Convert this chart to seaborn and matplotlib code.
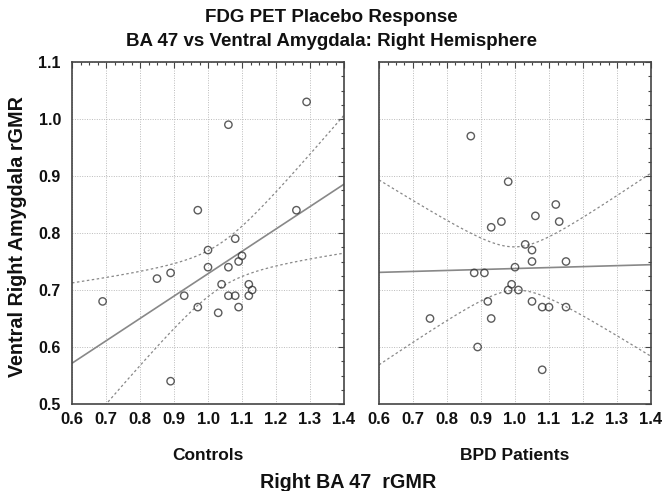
import numpy as np
import pandas as pd
import matplotlib
matplotlib.use("Agg")
import matplotlib.pyplot as plt
import seaborn as sns
from matplotlib.ticker import MultipleLocator

# ---- data ----
controls_x = [1.29, 1.06, 0.97, 1.26, 1.08, 1.00, 1.10, 1.09, 1.06, 1.00, 0.89, 0.85,
              1.04, 1.12, 1.13, 0.93, 1.06, 1.08, 1.12, 0.69, 0.97, 1.09, 1.03, 0.89]
controls_y = [1.03, 0.99, 0.84, 0.84, 0.79, 0.77, 0.76, 0.75, 0.74, 0.74, 0.73, 0.72,
              0.71, 0.71, 0.70, 0.69, 0.69, 0.69, 0.69, 0.68, 0.67, 0.67, 0.66, 0.54]

bpd_x = [0.87, 0.98, 1.12, 1.06, 0.96, 1.13, 0.93, 1.03, 1.05, 1.05, 1.15, 1.00, 0.88,
         0.91, 0.99, 0.98, 1.01, 0.92, 1.05, 1.08, 1.10, 1.15, 0.75, 0.93, 0.89, 1.08]
bpd_y = [0.97, 0.89, 0.85, 0.83, 0.82, 0.82, 0.81, 0.78, 0.77, 0.75, 0.75, 0.74, 0.73,
         0.73, 0.71, 0.70, 0.70, 0.68, 0.68, 0.67, 0.67, 0.67, 0.65, 0.65, 0.60, 0.56]

panel_labels = ["Controls", "BPD Patients"]
x_ticks = [0.6, 0.7, 0.8, 0.9, 1.0, 1.1, 1.2, 1.3, 1.4]
y_ticks = [0.5, 0.6, 0.7, 0.8, 0.9, 1.0, 1.1]
title_lines = ["FDG PET Placebo Response", "BA 47 vs Ventral Amygdala: Right Hemisphere"]
x_label = "Right BA 47  rGMR"
y_label = "Ventral Right Amygdala rGMR"

sns.set_style("white")
plt.rcParams["font.family"] = ["Liberation Sans", "DejaVu Sans"]
plt.rcParams["font.weight"] = "bold"
plt.rcParams["text.color"] = "#111111"
plt.rcParams["xtick.labelcolor"] = "#111111"
plt.rcParams["ytick.labelcolor"] = "#111111"

fig = plt.figure(figsize=(6.62, 4.91), dpi=100)
W, H = 662, 491
ax1 = fig.add_axes([72 / W, 1 - 404 / H, 272 / W, 342 / H])
ax2 = fig.add_axes([379 / W, 1 - 404 / H, 272 / W, 342 / H])


def ci_band(x, y, xs, t=2.07):
    x = np.asarray(x); y = np.asarray(y)
    n = len(x)
    b, a = np.polyfit(x, y, 1)
    resid = y - (a + b * x)
    s = np.sqrt(np.sum(resid ** 2) / (n - 2))
    sxx = np.sum((x - x.mean()) ** 2)
    se = s * np.sqrt(1 / n + (xs - x.mean()) ** 2 / sxx)
    yh = a + b * xs
    return yh - t * se, yh + t * se


for ax, xs_, ys_, lab in [(ax1, controls_x, controls_y, panel_labels[0]),
                           (ax2, bpd_x, bpd_y, panel_labels[1])]:
    ax.set_xlim(0.6, 1.4)
    ax.set_ylim(0.5, 1.1)
    df = pd.DataFrame({"x": xs_, "y": ys_})
    sns.regplot(data=df, x="x", y="y", ax=ax, ci=None, truncate=False,
                scatter_kws=dict(s=28, facecolors="none", edgecolors="#333333",
                                 linewidths=1.0, zorder=3),
                line_kws=dict(color="#888888", lw=1.2, zorder=2))
    grid = np.linspace(0.6, 1.4, 200)
    lo, hi = ci_band(xs_, ys_, grid)
    ax.plot(grid, lo, color="#888888", lw=0.9, ls=(0, (2, 2)))
    ax.plot(grid, hi, color="#888888", lw=0.9, ls=(0, (2, 2)))
    ax.set_xlim(0.6, 1.4)
    ax.set_ylim(0.5, 1.1)
    ax.set_xticks(x_ticks)
    ax.set_yticks(y_ticks)
    ax.xaxis.set_minor_locator(MultipleLocator(0.025))
    ax.yaxis.set_minor_locator(MultipleLocator(0.025))
    ax.tick_params(which="both", direction="in", top=True, right=True,
                   color="#444444", width=0.8)
    ax.tick_params(which="major", length=4)
    ax.tick_params(which="minor", length=2.5)
    ax.tick_params(axis="x", pad=6)
    ax.tick_params(axis="y", pad=8)
    ax.set_xticklabels([f"{v:.1f}" for v in x_ticks], fontsize=12, fontweight="bold")
    ax.grid(True, which="major", color="#bbbbbb", ls=(0, (1, 1.5)), lw=0.7)
    for sp in ax.spines.values():
        sp.set_color("#444444")
        sp.set_linewidth(1.2)
    ax.set_xlabel("")
    ax.set_ylabel("")

ax1.set_yticklabels([f"{v:.1f}" for v in y_ticks], fontsize=11.5, fontweight="bold")
ax2.set_yticklabels([])

# panel captions
fig.text(208 / W, 1 - 455 / H, panel_labels[0], ha="center", va="center",
         fontsize=12.5, fontweight="bold")
fig.text(515 / W, 1 - 455 / H, panel_labels[1], ha="center", va="center",
         fontsize=12.5, fontweight="bold")

fig.text(18 / W, 1 - 237 / H, y_label, ha="center", va="center", rotation=90,
         fontsize=14.2, fontweight="bold")

fig.text(0.5, 1 - 18 / H, title_lines[0], ha="center", va="center", fontsize=13.5,
         fontweight="bold")
fig.text(0.5, 1 - 41 / H, title_lines[1], ha="center", va="center", fontsize=13.5,
         fontweight="bold")
fig.text(348 / W, 1 - 483 / H, x_label, ha="center", va="center", fontsize=14.2,
         fontweight="bold")

fig.savefig("out.png", dpi=100)
